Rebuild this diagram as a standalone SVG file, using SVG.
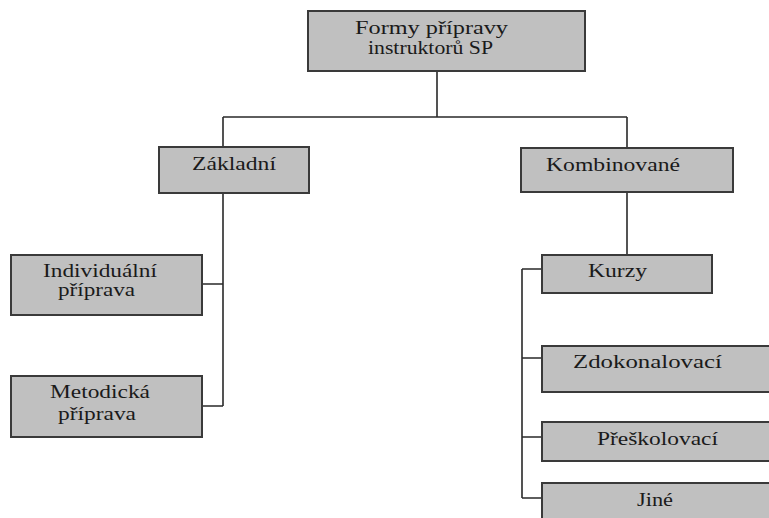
<svg xmlns="http://www.w3.org/2000/svg" width="769" height="518" viewBox="0 0 769 518">
<style>
.box{fill:#c0c0c0;stroke:#3a3a3a;stroke-width:2}
.ln{fill:none;stroke:#2a2a2a;stroke-width:1.6}
.t{font-family:'Liberation Serif','DejaVu Serif',serif;font-size:18px;fill:#1a1a1a}
</style>
<rect width="769" height="518" fill="#ffffff"/>
<g id="connectors">
<path class="ln" d="M437,71V117M223,117H627M223,117V147M627,117V148"/>
<path class="ln" d="M223,193V406M202,284H223M202,406H223"/>
<path class="ln" d="M627,192V255"/>
<path class="ln" d="M522,269V498M522,269H542M522,358H542M522,437H542M522,498H542"/>
</g>
<g id="root">
<rect class="box" x="308" y="11" width="277" height="60"/>
<text class="t" x="355" y="34" textLength="153" lengthAdjust="spacingAndGlyphs">Formy přípravy</text>
<text class="t" x="368" y="54" textLength="125" lengthAdjust="spacingAndGlyphs">instruktorů SP</text>
</g>
<g id="zakladni">
<rect class="box" x="159" y="147" width="150" height="46"/>
<text class="t" x="192" y="170" textLength="84" lengthAdjust="spacingAndGlyphs">Základní</text>
</g>
<g id="kombinovane">
<rect class="box" x="521" y="148" width="212" height="44"/>
<text class="t" x="546" y="171" textLength="134" lengthAdjust="spacingAndGlyphs">Kombinované</text>
</g>
<g id="individualni">
<rect class="box" x="11" y="255" width="191" height="60"/>
<text class="t" x="43" y="277" textLength="114" lengthAdjust="spacingAndGlyphs">Individuální</text>
<text class="t" x="58" y="296" textLength="77" lengthAdjust="spacingAndGlyphs">příprava</text>
</g>
<g id="metodicka">
<rect class="box" x="11" y="376" width="191" height="61"/>
<text class="t" x="50" y="398" textLength="100" lengthAdjust="spacingAndGlyphs">Metodická</text>
<text class="t" x="58" y="420" textLength="78" lengthAdjust="spacingAndGlyphs">příprava</text>
</g>
<g id="kurzy">
<rect class="box" x="542" y="255" width="170" height="38"/>
<text class="t" x="588" y="277" textLength="59" lengthAdjust="spacingAndGlyphs">Kurzy</text>
</g>
<g id="zdokonalovaci">
<rect class="box" x="542" y="346" width="240" height="46"/>
<text class="t" x="573" y="368" textLength="149" lengthAdjust="spacingAndGlyphs">Zdokonalovací</text>
</g>
<g id="preskolovaci">
<rect class="box" x="542" y="422" width="240" height="39"/>
<text class="t" x="597" y="445" textLength="121" lengthAdjust="spacingAndGlyphs">Přeškolovací</text>
</g>
<g id="jine">
<rect class="box" x="542" y="483" width="240" height="45"/>
<text class="t" x="637" y="506" textLength="36" lengthAdjust="spacingAndGlyphs">Jiné</text>
</g>
</svg>
